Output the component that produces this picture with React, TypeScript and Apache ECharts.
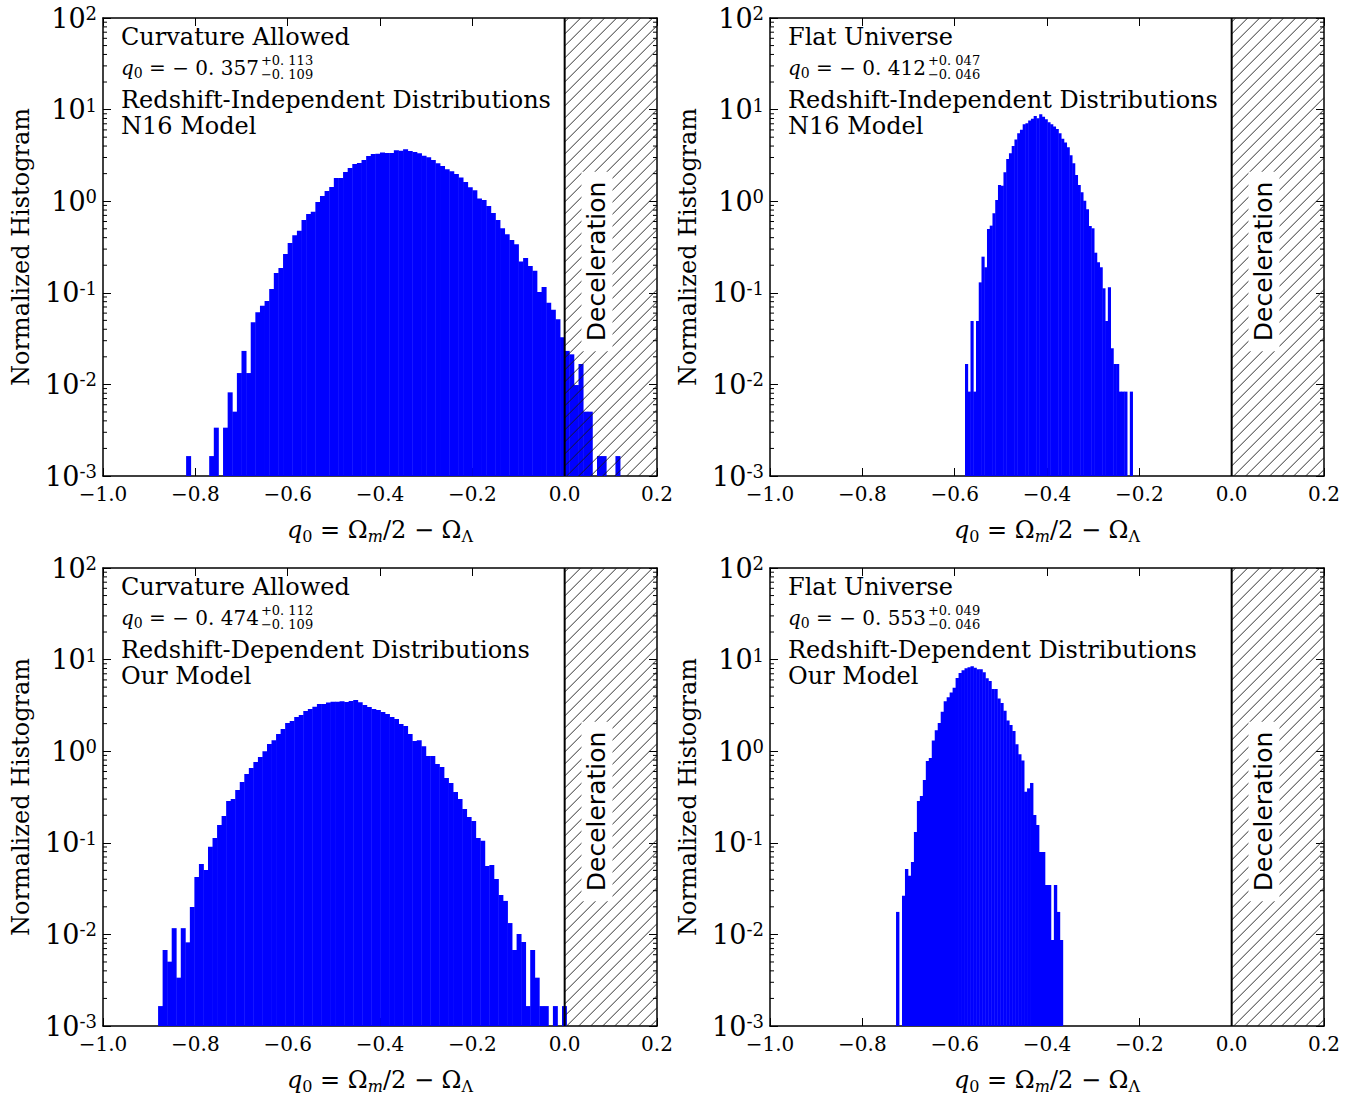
import React, { useEffect, useRef } from "react";
import * as echarts from "echarts";

// ---------------- data ----------------
const xTickValues = [-1.0, -0.8, -0.6, -0.4, -0.2, 0.0, 0.2];
const yMinValue = 0.001;
const yMaxValue = 100;
const minorMultipliers = [2, 3, 4, 5, 6, 7, 8, 9];
const minorDecades = [-3, -2, -1, 0, 1];

// top-left: curvature allowed, redshift-independent, N16
const tlBinStart = -0.82;
const tlBinWidth = 0.01;
const tlDensity = [
  0.00165, 0, 0, 0, 0, 0.00165, 0.00337, 0, 0.00337, 0.00819,
  0.00504, 0.0133, 0.0232, 0.0133, 0.0476, 0.0612, 0.0723, 0.0813, 0.11, 0.164,
  0.187, 0.265, 0.35, 0.424, 0.477, 0.623, 0.725, 0.769, 0.98, 1.14,
  1.29, 1.43, 1.79, 1.79, 2.08, 2.3, 2.55, 2.61, 2.82, 3.11,
  3.28, 3.3, 3.41, 3.36, 3.36, 3.59, 3.56, 3.68, 3.53, 3.45,
  3.33, 3.14, 3.01, 2.82, 2.59, 2.42, 2.23, 2.12, 1.98, 1.82,
  1.62, 1.42, 1.32, 1.07, 1.03, 0.886, 0.743, 0.623, 0.506, 0.435,
  0.377, 0.338, 0.219, 0.24, 0.196, 0.174, 0.102, 0.116, 0.078, 0.0654,
  0.0513, 0.0327, 0.0232, 0.0213, 0.00984, 0.0167, 0.00504, 0.00504, 0, 0.00165,
  0.00165, 0, 0, 0.00165,
];

// top-right: flat universe, redshift-independent, N16
const trBinStart = -0.5776;
const trBinWidth = 0.00595;
const trDensity = [
  0.0167, 0.00834, 0.0492, 0.00834, 0.0492, 0.13, 0.248, 0.19, 0.498, 0.541,
  0.738, 1.03, 1.5, 1.47, 2.07, 2.89, 3.33, 4.01, 4.73, 5.51,
  6.04, 6.91, 7.09, 7.58, 7.97, 8.52, 8.04, 8.87, 8.37, 7.83,
  7.26, 6.91, 6.52, 6.14, 5.51, 4.82, 4.36, 3.87, 3.17, 2.59,
  1.93, 1.5, 1.25, 1.01, 0.815, 0.536, 0.506, 0.274, 0.215, 0.19,
  0.112, 0.0492, 0.115, 0.0248, 0.0167, 0.0167, 0.00834, 0.00834, 0.00834, 0,
  0.00834,
];

// bottom-left: curvature allowed, redshift-dependent, our model
const blBinStart = -0.8807;
const blBinWidth = 0.00983;
const blDensity = [
  0.00165, 0.00676, 0.00504, 0.0117, 0.00337, 0.0117, 0.00819, 0.0199, 0.0423, 0.0586,
  0.0504, 0.0907, 0.113, 0.156, 0.196, 0.286, 0.301, 0.377, 0.461, 0.564,
  0.655, 0.762, 0.865, 1.0, 1.2, 1.32, 1.54, 1.75, 2.03, 2.14,
  2.36, 2.48, 2.75, 2.89, 3.06, 3.28, 3.28, 3.41, 3.47, 3.47,
  3.5, 3.45, 3.53, 3.62, 3.43, 3.19, 3.04, 2.89, 2.82, 2.68,
  2.55, 2.36, 2.24, 1.98, 1.88, 1.54, 1.29, 1.32, 1.13, 0.886,
  0.886, 0.725, 0.672, 0.509, 0.45, 0.358, 0.301, 0.234, 0.191, 0.173,
  0.113, 0.105, 0.0558, 0.0573, 0.0403, 0.0269, 0.0232, 0.0133, 0.00676, 0.0101,
  0.00826, 0.00165, 0.00676, 0.00337, 0.00165, 0.00165, 0, 0.00165, 0, 0.00165,
];

// bottom-right: flat universe, redshift-dependent, our model
const brBinStart = -0.727;
const brBinWidth = 0.00645;
const brDensity = [
  0.0176, 0, 0.0265, 0.0518, 0.0438, 0.0617, 0.131, 0.286, 0.324, 0.485,
  0.782, 0.843, 1.31, 1.69, 2.03, 2.7, 3.5, 3.87, 4.36, 4.94,
  6.3, 7.15, 7.64, 8.04, 8.24, 8.44, 8.17, 7.83, 7.83, 7.26,
  6.25, 5.84, 4.78, 4.78, 3.75, 3.36, 2.77, 2.17, 1.93, 1.66,
  1.19, 0.924, 0.794, 0.361, 0.393, 0.45, 0.201, 0.156, 0.0794, 0.0794,
  0.0347, 0.0347, 0.00869, 0.0347, 0.0176, 0.00869,
];

const panelTitles = ["Curvature Allowed", "Flat Universe", "Curvature Allowed", "Flat Universe"];
const q0Central = ["0. 357", "0. 412", "0. 474", "0. 553"];
const q0Upper = ["+0. 113", "+0. 047", "+0. 112", "+0. 049"];
const q0Lower = ["\u22120. 109", "\u22120. 046", "\u22120. 109", "\u22120. 046"];
const distLabels = [
  "Redshift-Independent Distributions",
  "Redshift-Independent Distributions",
  "Redshift-Dependent Distributions",
  "Redshift-Dependent Distributions",
];
const modelLabels = ["N16 Model", "N16 Model", "Our Model", "Our Model"];
const decelLabel = "Deceleration";
const decelRegion = [0.0, 0.2];
const decelTextPos = [0.07, 0.22];
const yAxisTitle = "Normalized Histogram";

// ---------------- layout / style ----------------
const GRID_LEFT = [103, 770, 103, 770];
const GRID_TOP = [18, 18, 568, 568];
const GRID_W = 554;
const GRID_H = 458;
const SERIF = '"DejaVu Serif", serif';
const SANS = '"DejaVu Sans", sans-serif';
const BAR_COLOR = "#0000ff";
const HATCH_SPACING = 12;
const ANNOT_FONT = 24;

const panels = [
  { start: tlBinStart, width: tlBinWidth, density: tlDensity },
  { start: trBinStart, width: trBinWidth, density: trDensity },
  { start: blBinStart, width: blBinWidth, density: blDensity },
  { start: brBinStart, width: brBinWidth, density: brDensity },
];

let measureCtx: CanvasRenderingContext2D | null = null;
function textWidth(text: string, font: string): number {
  if (!measureCtx) measureCtx = document.createElement("canvas").getContext("2d");
  if (!measureCtx) return text.length * 10;
  measureCtx.font = font;
  return measureCtx.measureText(text).width;
}

function fmtX(v: number): string {
  const r = Math.round(v * 10) / 10;
  if (Math.abs(r) < 1e-9) return "0.0";
  return r < 0 ? "\u2212" + Math.abs(r).toFixed(1) : r.toFixed(1);
}
function fmtY(v: number): string {
  const e = Math.round(Math.log10(v));
  return `{b|10}{s|${e}}`;
}

function buildOption() {
  const xMin = xTickValues[0];
  const xMax = xTickValues[xTickValues.length - 1];
  const grids: any[] = [];
  const xAxes: any[] = [];
  const yAxes: any[] = [];
  const series: any[] = [];
  const graphics: any[] = [];

  const minorVals: number[] = [];
  minorDecades.forEach((d) => minorMultipliers.forEach((m) => minorVals.push(m * Math.pow(10, d))));

  panels.forEach((p, i) => {
    grids.push({
      left: GRID_LEFT[i],
      top: GRID_TOP[i],
      width: GRID_W,
      height: GRID_H,
      containLabel: false,
      outerBoundsMode: "none",
    });
    const axisLine = { show: true, onZero: false, lineStyle: { color: "#000", width: 1.5 } };
    const axisTick = { show: true, inside: true, length: 8, lineStyle: { color: "#000", width: 1 } };
    const xCommon = {
      type: "value",
      gridIndex: i,
      min: xMin,
      max: xMax,
      interval: 0.2,
      splitLine: { show: false },
      axisLine,
      axisTick,
    };
    xAxes.push({
      ...xCommon,
      position: "bottom",
      axisLabel: {
        show: true,
        margin: 8,
        formatter: fmtX,
        fontSize: 20,
        fontFamily: SERIF,
        color: "#000",
      },
      name: "{i|q}{s|0}{n| = \u03a9}{si|m}{n|/2 \u2212 \u03a9}{s|\u039b}",
      nameLocation: "middle",
      nameGap: 42,
      nameMoveOverlap: false,
      nameTextStyle: {
        color: "#000",
        rich: {
          i: { fontSize: 24, fontFamily: SERIF, fontStyle: "italic", color: "#000", verticalAlign: "top", lineHeight: 26 },
          n: { fontSize: 24, fontFamily: SERIF, color: "#000", verticalAlign: "top", lineHeight: 26 },
          s: { fontSize: 16, fontFamily: SERIF, color: "#000", verticalAlign: "bottom", lineHeight: 16, padding: [13, 0, 0, 0] },
          si: { fontSize: 16, fontFamily: SERIF, fontStyle: "italic", color: "#000", verticalAlign: "bottom", lineHeight: 16, padding: [13, 0, 0, 0] },
        },
      },
    });
    xAxes.push({ ...xCommon, position: "top", axisLabel: { show: false } });

    const yCommon = {
      type: "log",
      logBase: 10,
      gridIndex: i,
      min: yMinValue,
      max: yMaxValue,
      splitLine: { show: false },
      minorTick: { show: false },
      axisLine,
      axisTick,
    };
    yAxes.push({
      ...yCommon,
      position: "left",
      axisLabel: {
        show: true,
        margin: 6,
        formatter: fmtY,
        rich: {
          b: { fontSize: 27, fontFamily: SERIF, color: "#000", verticalAlign: "bottom", lineHeight: 27 },
          s: { fontSize: 18, fontFamily: SERIF, color: "#000", verticalAlign: "top", lineHeight: 18, padding: [0, 0, 13, 0] },
        },
      },
      name: yAxisTitle,
      nameLocation: "middle",
      nameGap: 70,
      nameRotate: 90,
      nameMoveOverlap: false,
      nameTextStyle: { fontSize: 24, fontFamily: SERIF, color: "#000" },
    });
    yAxes.push({ ...yCommon, position: "right", axisLabel: { show: false } });

    // histogram bars
    const barData: number[][] = [];
    p.density.forEach((v, k) => {
      if (v > 0) barData.push([p.start + k * p.width, p.start + (k + 1) * p.width, v]);
    });
    series.push({
      type: "custom",
      xAxisIndex: 2 * i,
      yAxisIndex: 2 * i,
      clip: true,
      z: 2,
      encode: { x: [0, 1], y: 2 },
      data: barData,
      renderItem: (params: any, api: any) => {
        const a = api.coord([api.value(0), api.value(2)]);
        const b = api.coord([api.value(1), yMinValue]);
        return {
          type: "rect",
          shape: { x: a[0], y: a[1], width: b[0] - a[0] + 0.4, height: b[1] - a[1] },
          style: { fill: BAR_COLOR },
        };
      },
    });

    // minor log ticks on left & right
    series.push({
      type: "custom",
      xAxisIndex: 2 * i,
      yAxisIndex: 2 * i,
      z: 5,
      silent: true,
      encode: { x: 0, y: 1 },
      data: minorVals.map((v) => [xMin, v]),
      renderItem: (params: any, api: any) => {
        const l = api.coord([xMin, api.value(1)]);
        const r = api.coord([xMax, api.value(1)]);
        const st = { stroke: "#000", lineWidth: 1 };
        return {
          type: "group",
          children: [
            { type: "line", shape: { x1: l[0], y1: l[1], x2: l[0] + 4, y2: l[1] }, style: st },
            { type: "line", shape: { x1: r[0], y1: r[1], x2: r[0] - 4, y2: r[1] }, style: st },
          ],
        };
      },
    });

    // deceleration hatched region
    series.push({
      type: "custom",
      xAxisIndex: 2 * i,
      yAxisIndex: 2 * i,
      z: 3,
      silent: true,
      encode: { x: [0, 1], y: [2, 3] },
      data: [[decelRegion[0], decelRegion[1], yMinValue, yMaxValue]],
      renderItem: (params: any, api: any) => {
        const tl = api.coord([api.value(0), api.value(3)]);
        const br = api.coord([api.value(1), api.value(2)]);
        const L = tl[0], T = tl[1], R = br[0], B = br[1];
        const children: any[] = [];
        for (let c = L + T + 4; c <= R + B; c += HATCH_SPACING) {
          const xa = Math.max(L, c - B);
          const xb = Math.min(R, c - T);
          if (xb > xa) {
            children.push({
              type: "line",
              shape: { x1: xa, y1: c - xa, x2: xb, y2: c - xb },
              style: { stroke: "#1a1a1a", lineWidth: 0.9 },
            });
          }
        }
        children.push({
          type: "line",
          shape: { x1: L, y1: T, x2: L, y2: B },
          style: { stroke: "#000", lineWidth: 2 },
        });
        const tp = api.coord(decelTextPos);
        children.push({
          type: "text",
          x: tp[0],
          y: tp[1],
          rotation: Math.PI / 2,
          style: {
            text: decelLabel,
            font: `25px ${SANS}`,
            fill: "#000",
            align: "center",
            verticalAlign: "middle",
            backgroundColor: "#fff",
            padding: [3, 10, 3, 10],
          },
        });
        return { type: "group", children };
      },
    });

    // annotation texts
    const x0 = GRID_LEFT[i] + 18;
    const y0 = GRID_TOP[i];
    graphics.push({
      type: "text",
      x: x0,
      y: y0 + 19,
      silent: true,
      style: { text: panelTitles[i], font: `${ANNOT_FONT}px ${SERIF}`, fill: "#000", align: "left", verticalAlign: "middle" },
    });
    const qMain = ` = \u2212 ${q0Central[i]}`;
    const qW =
      textWidth("q", `italic 20px ${SERIF}`) + textWidth("0", `14px ${SERIF}`) + textWidth(qMain, `20px ${SERIF}`);
    const qy = y0 + 51;
    graphics.push({
      type: "text",
      x: x0,
      y: qy,
      silent: true,
      style: {
        text: `{q|q}{z|0}{n|${qMain}}`,
        align: "left",
        verticalAlign: "middle",
        rich: {
          q: { fontSize: 20, fontFamily: SERIF, fontStyle: "italic", fill: "#000", color: "#000", verticalAlign: "top", lineHeight: 22 },
          z: { fontSize: 14, fontFamily: SERIF, fill: "#000", color: "#000", verticalAlign: "bottom", lineHeight: 14, padding: [10, 0, 0, 0] },
          n: { fontSize: 20, fontFamily: SERIF, fill: "#000", color: "#000", verticalAlign: "top", lineHeight: 22 },
        },
      },
    });
    graphics.push({
      type: "text",
      x: x0 + qW + 2,
      y: qy - 2,
      silent: true,
      style: {
        text: `${q0Upper[i]}\n${q0Lower[i]}`,
        font: `13px ${SERIF}`,
        fill: "#000",
        lineHeight: 14,
        align: "left",
        verticalAlign: "middle",
      },
    });
    graphics.push({
      type: "text",
      x: x0,
      y: y0 + 82,
      silent: true,
      style: { text: distLabels[i], font: `${ANNOT_FONT}px ${SERIF}`, fill: "#000", align: "left", verticalAlign: "middle" },
    });
    graphics.push({
      type: "text",
      x: x0,
      y: y0 + 108,
      silent: true,
      style: { text: modelLabels[i], font: `${ANNOT_FONT}px ${SERIF}`, fill: "#000", align: "left", verticalAlign: "middle" },
    });
  });

  return {
    animation: false,
    backgroundColor: "#ffffff",
    grid: grids,
    xAxis: xAxes,
    yAxis: yAxes,
    series,
    graphic: { elements: graphics },
  };
}

export default function App() {
  const ref = useRef<HTMLDivElement | null>(null);
  useEffect(() => {
    if (!ref.current) return;
    const chart = echarts.init(ref.current, undefined, { renderer: "svg" });
    chart.setOption(buildOption() as any);
    return () => chart.dispose();
  }, []);
  return (
    <div
      ref={ref}
      style={{ position: "fixed", left: 0, top: 0, width: "1365px", height: "1099px", background: "#fff" }}
    />
  );
}
